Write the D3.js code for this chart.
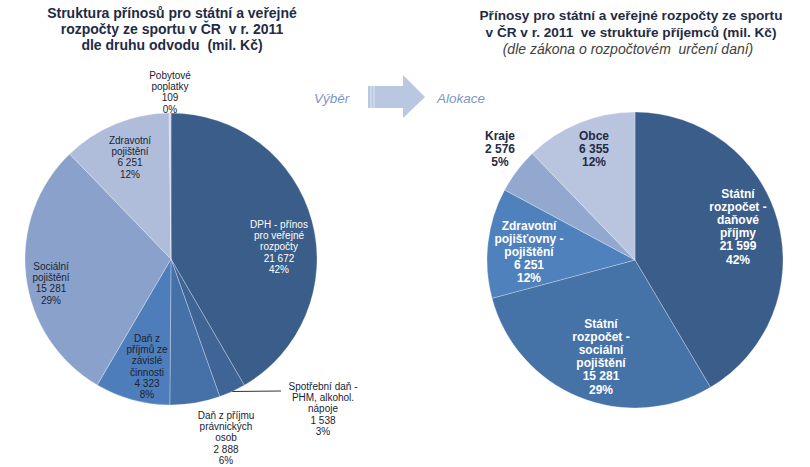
<!DOCTYPE html>
<html><head><meta charset="utf-8">
<script src="https://cdn.jsdelivr.net/npm/d3@7"></script>
<style>body{margin:0;background:#fff;} svg{display:block;font-family:"Liberation Sans",Arial,sans-serif;} text{white-space:pre;}</style>
</head><body><svg id="c" width="810" height="467"></svg>
<script>
// ---- data ----
const leftCategories = ["DPH - přínos pro veřejné rozpočty","Spotřební daň - PHM, alkohol. nápoje","Daň z příjmu právnických osob","Daň z příjmů ze závislé činnosti","Sociální pojištění","Zdravotní pojištění","Pobytové poplatky"];
const leftLabelLines = [["DPH - přínos","pro veřejné","rozpočty"],["Spotřební daň -","PHM, alkohol.","nápoje"],["Daň z příjmu","právnických","osob"],["Daň z","příjmů ze","závislé","činnosti"],["Sociální","pojištění"],["Zdravotní","pojištění"],["Pobytové","poplatky"]];
const leftValues = [21672,1538,2888,4323,15281,6251,109];
const leftPercents = ["42%","3%","6%","8%","29%","12%","0%"];

const rightCategories = ["Státní rozpočet - daňové příjmy","Státní rozpočet - sociální pojištění","Zdravotní pojišťovny - pojištění","Kraje","Obce"];
const rightLabelLines = [["Státní","rozpočet -","daňové","příjmy"],["Státní","rozpočet -","sociální","pojištění"],["Zdravotní","pojišťovny -","pojištění"],["Kraje"],["Obce"]];
const rightValues = [21599,15281,6251,2576,6355];
const rightPercents = ["42%","29%","12%","5%","12%"];

const leftTitle = ["Struktura přínosů pro státní a veřejné","rozpočty ze sportu v ČR  v r. 2011","dle druhu odvodu  (mil. Kč)"];
const rightTitle = ["Přínosy pro státní a veřejné rozpočty ze sportu","v ČR v r. 2011  ve struktuře příjemců (mil. Kč)"];
const rightSubtitle = "(dle zákona o rozpočtovém  určení daní)";
const arrowFrom = "Výběr", arrowTo = "Alokace";

// ---- styles / layout ----
const leftColors = ["#3b5d8a","#3f6597","#4671a8","#4d7dba","#8aa2cb","#afbdda","#cad4e7"];
const rightColors = ["#3b5d8a","#4572a7","#4f81bd","#93a8cf","#b9c5df"];
const leftText = ["#fff","#1b2233","#1b2233","#1b2233","#1b2233","#1b2233","#1b2233"];
const rightText = ["#fff","#fff","#fff","#1f2b45","#1f2b45"];
// label anchors (offset from pie centre) and line height
const L = {cx:171, cy:259, r:146, lh:11.2};
const R = {cx:635, cy:260, r:148, lh:13.1};
const leftLabelOff = [[108,-31],[152,131],[55,160],[-24,83],[-120,11],[-41,-115],[-1,-180]];
const rightLabelOff = [[103,-62],[-34,68],[-106,-30],[-135,-120],[-41,-120]];

const fmt = d3.formatLocale({decimal:",", thousands:" ", grouping:[3], currency:["","Kč"]}).format(",d");
const svg = d3.select("#c");

function drawPie(cfg, values, colors, lines, pcts, offs, textCols, fontSize, bold) {
  const pie = d3.pie().sort(null).startAngle(0).endAngle(2*Math.PI)(values);
  const arc = d3.arc().innerRadius(0).outerRadius(cfg.r);
  const g = svg.append("g").attr("transform", `translate(${cfg.cx},${cfg.cy})`);
  g.selectAll("path").data(pie).join("path")
    .attr("d", arc).attr("fill", (d,i)=>colors[i])
    .attr("stroke","rgba(255,255,255,0.35)").attr("stroke-width",0.8);
  const lg = g.selectAll("text.lbl").data(pie).join("text").attr("class","lbl")
    .attr("text-anchor","middle").attr("font-size",fontSize).attr("font-weight",bold?"bold":"normal")
    .attr("fill",(d,i)=>textCols[i]);
  lg.each(function(d,i){
    const t = d3.select(this);
    const all = lines[i].concat([fmt(values[i]), pcts[i]]);
    all.forEach((s,k)=>{
      t.append("tspan").attr("x",offs[i][0]).attr("y",offs[i][1]+k*cfg.lh).text(s);
    });
  });
  return {g, pie, arc};
}

const lp = drawPie(L, leftValues, leftColors, leftLabelLines, leftPercents, leftLabelOff, leftText, 10, false);
// leader line for the Spotřební daň slice
{
  const d = lp.pie[1];
  const a = (d.startAngle + d.endAngle)/2;
  const x0 = Math.sin(a)*L.r, y0 = -Math.cos(a)*L.r;
  lp.g.append("line").attr("x1",x0).attr("y1",y0).attr("x2",leftLabelOff[1][0]-42).attr("y2",leftLabelOff[1][1]+1)
    .attr("stroke","#333").attr("stroke-width",1);
}
drawPie(R, rightValues, rightColors, rightLabelLines, rightPercents, rightLabelOff, rightText, 12, true);

// titles
const tl = svg.append("text").attr("text-anchor","middle").attr("font-size",14).attr("font-weight","bold").attr("fill","#1f2b45");
leftTitle.forEach((s,k)=>tl.append("tspan").attr("x",172).attr("y",18+k*16).text(s));
const tr = svg.append("text").attr("text-anchor","middle").attr("font-size",13.6).attr("font-weight","bold").attr("fill","#1f2b45");
rightTitle.forEach((s,k)=>tr.append("tspan").attr("x",631).attr("y",20+k*16.5).text(s));
svg.append("text").attr("x",628).attr("y",54).attr("text-anchor","middle").attr("font-size",14)
  .attr("font-style","italic").attr("fill","#404040").text(rightSubtitle);

// arrow
svg.append("path").attr("d","M368,86H403V75L425,97L403,118V108H368Z").attr("fill","#bac7e1");
svg.append("line").attr("x1",371).attr("x2",371).attr("y1",86).attr("y2",108).attr("stroke","#dfe6f2").attr("stroke-width",1);
svg.append("line").attr("x1",374).attr("x2",374).attr("y1",86).attr("y2",108).attr("stroke","#dfe6f2").attr("stroke-width",1);
svg.append("text").attr("x",314).attr("y",103).attr("font-size",13.5).attr("font-style","italic").attr("fill","#7f96c5").text(arrowFrom);
svg.append("text").attr("x",437).attr("y",103).attr("font-size",13.5).attr("font-style","italic").attr("fill","#7f96c5").text(arrowTo);
</script></body></html>
